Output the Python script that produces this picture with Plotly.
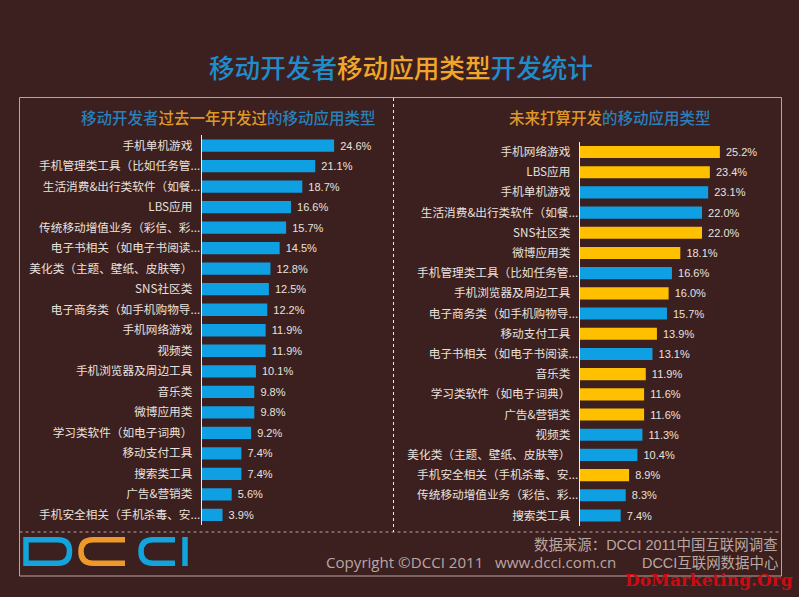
import plotly.graph_objects as go

W, H = 799, 597
BG = "#3c1f1f"
BLUE = "#0f9fe3"
GOLD = "#ffc000"
TITLE_BLUE = "#1f8ccb"
TITLE_ORANGE = "#f0a628"
FRAME = "#b8a5a0"
LABEL = "#e8e2de"
FOOT = "#b9a7a2"
CJK = "Noto Sans CJK SC"
CJK_MEDIUM = "Noto Sans CJK SC Medium, Noto Sans CJK SC"
MIXED = "Liberation Sans, Noto Sans CJK SC"

left_categories = ["手机单机游戏", "手机管理类工具（比如任务管...", "生活消费&出行类软件（如餐...", "LBS应用",
                    "传统移动增值业务（彩信、彩...", "电子书相关（如电子书阅读...", "美化类（主题、壁纸、皮肤等）", "SNS社区类",
                    "电子商务类（如手机购物导...", "手机网络游戏", "视频类", "手机浏览器及周边工具", "音乐类", "微博应用类",
                    "学习类软件（如电子词典）", "移动支付工具", "搜索类工具", "广告&营销类", "手机安全相关（手机杀毒、安..."]
left_values = [24.6, 21.1, 18.7, 16.6, 15.7, 14.5, 12.8, 12.5, 12.2, 11.9, 11.9, 10.1, 9.8, 9.8, 9.2, 7.4, 7.4, 5.6, 3.9]

right_categories = ["手机网络游戏", "LBS应用", "手机单机游戏", "生活消费&出行类软件（如餐...", "SNS社区类", "微博应用类",
                    "手机管理类工具（比如任务管...", "手机浏览器及周边工具", "电子商务类（如手机购物导...", "移动支付工具",
                    "电子书相关（如电子书阅读...", "音乐类", "学习类软件（如电子词典）", "广告&营销类", "视频类",
                    "美化类（主题、壁纸、皮肤等）", "手机安全相关（手机杀毒、安...", "传统移动增值业务（彩信、彩...", "搜索类工具"]
right_values = [25.2, 23.4, 23.1, 22.0, 22.0, 18.1, 16.6, 16.0, 15.7, 13.9, 13.1, 11.9, 11.6, 11.6, 11.3, 10.4, 8.9, 8.3, 7.4]
right_new = [1, 1, 0, 0, 1, 1, 0, 1, 0, 1, 0, 1, 1, 1, 0, 0, 1, 0, 0]


def px_x(v):
    return v / W


def px_y(v):
    return 1 - v / H


def tick_text(names):
    return [n if n.endswith("...") else n + "\u00a0\u00a0\u00a0" for n in names]


def bars(names, values, colors, xa, ya):
    return go.Bar(
        y=names, x=values, orientation="h", marker=dict(color=colors, line=dict(width=0)),
        text=[f"\u00a0{v:.1f}%" for v in values], textposition="outside", cliponaxis=False,
        textangle=0, constraintext="none", width=0.6,
        textfont=dict(size=11, color=LABEL, family="Liberation Sans"),
        xaxis=xa, yaxis=ya, showlegend=False, hoverinfo="skip",
    )


fig = go.Figure()
fig.add_trace(bars(left_categories, left_values, [BLUE] * len(left_values), "x", "y"))
fig.add_trace(bars(right_categories, right_values, [GOLD if f else BLUE for f in right_new], "x2", "y2"))


def xaxis(x0, scale):
    return dict(domain=[px_x(x0), px_x(x0 + 30 * scale)], range=[0, 30], visible=False, fixedrange=True)


def yaxis(names, top, bottom, anchor):
    return dict(domain=[px_y(bottom), px_y(top)], type="category", categoryorder="array",
                categoryarray=names, autorange="reversed", anchor=anchor,
                tickmode="array", tickvals=names, ticktext=tick_text(names), ticklabelstandoff=-2,
                tickfont=dict(size=11.65, color=LABEL, family=CJK), ticks="", ticklen=0,
                showline=True, linecolor="#f2eeee", linewidth=1, showgrid=False, zeroline=False)


fig.update_layout(
    width=W, height=H, autosize=False, margin=dict(l=0, r=0, t=0, b=0),
    paper_bgcolor=BG, plot_bgcolor="rgba(0,0,0,0)", bargap=0.4,
    xaxis=xaxis(201.5, 5.39), yaxis=yaxis(left_categories, 135.3, 525.2, "x"),
    xaxis2=xaxis(579.5, 5.57), yaxis2=yaxis(right_categories, 141.9, 525.6, "x2"),
)


def seg(color, s):
    return f'<span style="color:{color}">{s}</span>'


def note(x, y, text, size, color=FOOT, anchor="center", family=CJK):
    fig.add_annotation(xref="paper", yref="paper", x=px_x(x), y=px_y(y), text=text, showarrow=False,
                       xanchor=anchor, yanchor="middle", font=dict(size=size, color=color, family=family))


note(401, 67, seg(TITLE_BLUE, "移动开发者") + seg(TITLE_ORANGE, "移动应用类型") + seg(TITLE_BLUE, "开发统计"), 25.6, family=CJK_MEDIUM)
note(228, 117, seg("#2a80ba", "移动开发者") + seg("#df972a", "过去一年开发过") + seg("#2a80ba", "的移动应用类型"), 15.5, family=CJK_MEDIUM)
note(610, 117, seg("#df972a", "未来打算开发") + seg("#2a80ba", "的移动应用类型"), 15.5, family=CJK_MEDIUM)
note(780, 545, "数据来源：DCCI 2011中国互联网调查", 14.45, anchor="right", family=MIXED)
note(780, 562.5, "DCCI互联网数据中心", 14.45, anchor="right", family=MIXED)
note(324, 562, "Copyright ©DCCI 2011   www.dcci.com.cn", 15.1, anchor="left", family="Open Sans")
note(708.5, 580, "<b>DoMarketing.Org</b>", 17, color="#cc0c14", family="DejaVu Serif")


def line(x0, y0, x1, y1, color=FRAME, width=1, dash="solid"):
    fig.add_shape(type="line", xref="paper", yref="paper", x0=px_x(x0), y0=px_y(y0), x1=px_x(x1), y1=px_y(y1),
                  line=dict(color=color, width=width, dash=dash))


line(19.5, 97.5, 781.5, 97.5)
line(19.5, 97.5, 19.5, 576)
line(781.5, 97.5, 781.5, 576)
line(19.5, 576, 781.5, 576)
line(19.5, 532, 781.5, 532, dash="3px,3px")
line(393.5, 98, 393.5, 532, color="#efe9e6", dash="3px,3px")


def logo(path, color):
    fig.add_shape(type="path", xref="paper", yref="paper", path=path, line=dict(color=color, width=5.5))


def P(p):
    return f"{px_x(p[0]):.5f},{px_y(p[1]):.5f}"


TOP, MID, BOT = 539.8, 551.5, 563.2
logo(f"M{P((26, TOP))} L{P((58, TOP))} Q{P((69.5, TOP))} {P((69.5, MID))} Q{P((69.5, BOT))} {P((58, BOT))} L{P((26, BOT))} Z", "#12a5dd")
for x_l, x_r, col in ((81, 125, "#ee9a2a"), (141, 175, "#12a5dd")):
    logo(f"M{P((x_r, TOP))} L{P((x_l + 12, TOP))} Q{P((x_l, TOP))} {P((x_l, MID))} Q{P((x_l, BOT))} {P((x_l + 12, BOT))} L{P((x_r, BOT))}", col)
logo(f"M{P((185, 537))} L{P((185, 566))}", "#12a5dd")

fig.write_html("out.html", config={"displayModeBar": False},
               post_script=f"document.body.style.margin='0';document.body.style.background='{BG}';")
